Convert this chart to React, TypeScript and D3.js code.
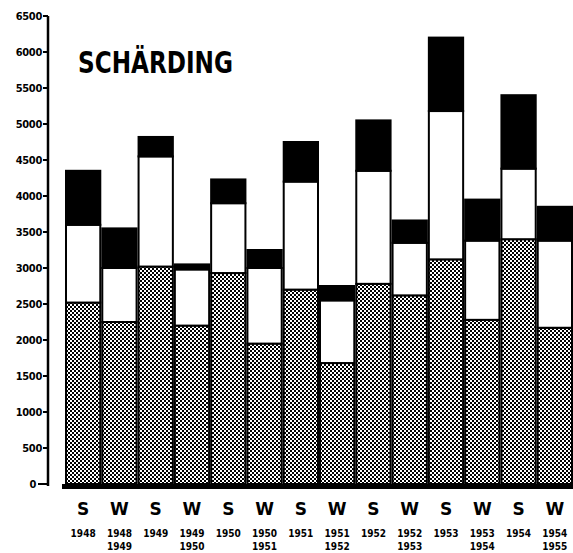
import { useEffect, useRef } from 'react';
import * as d3 from 'd3';

// seasons: S = summer, W = winter
const seasons = ['S', 'W', 'S', 'W', 'S', 'W', 'S', 'W', 'S', 'W', 'S', 'W', 'S', 'W'];
const yearLines = [
  ['1948'], ['1948', '1949'], ['1949'], ['1949', '1950'], ['1950'], ['1950', '1951'],
  ['1951'], ['1951', '1952'], ['1952'], ['1952', '1953'], ['1953'], ['1953', '1954'],
  ['1954'], ['1954', '1955'],
];

// stacked segments, bottom to top
const hatched = [2520, 2250, 3020, 2200, 2930, 1950, 2700, 1680, 2780, 2620, 3120, 2280, 3400, 2170];
const white = [1080, 750, 1530, 780, 970, 1050, 1500, 870, 1570, 730, 2060, 1100, 980, 1210];
const black = [750, 550, 270, 70, 330, 250, 550, 200, 700, 310, 1020, 570, 1020, 470];

const yTicks = [0, 500, 1000, 1500, 2000, 2500, 3000, 3500, 4000, 4500, 5000, 5500, 6000, 6500];

const W = 573;
const H = 553;

export default function App() {
  const svgRef = useRef<SVGSVGElement>(null);

  useEffect(() => {
    document.body.style.margin = '0';
    document.body.style.overflow = 'hidden';
    if (!svgRef.current) return;
    const svg = d3.select(svgRef.current);
    svg.selectAll('*').remove();

    const defs = svg.append('defs');
    const pat = defs.append('pattern')
      .attr('id', 'hatch')
      .attr('patternUnits', 'userSpaceOnUse')
      .attr('width', 4)
      .attr('height', 4);
    pat.append('rect').attr('width', 4).attr('height', 4).attr('fill', '#fff');
    pat.append('rect').attr('x', 0).attr('y', 0).attr('width', 2).attr('height', 2).attr('fill', '#000');
    pat.append('rect').attr('x', 2).attr('y', 2).attr('width', 2).attr('height', 2).attr('fill', '#000');

    const rows = seasons.map((s, i) => ({ key: String(i), hatched: hatched[i], white: white[i], black: black[i] }));

    const x = d3.scaleBand().domain(rows.map(d => d.key)).range([65, 573]).padding(0);
    const y = d3.scaleLinear().domain([0, 6500]).range([484, 16]);

    const stack = d3.stack<any>().keys(['hatched', 'white', 'black']);
    const series = stack(rows);
    const fills: Record<string, string> = { hatched: 'url(#hatch)', white: '#fff', black: '#000' };

    series.forEach(s => {
      svg.append('g')
        .selectAll('rect')
        .data(s)
        .enter()
        .append('rect')
        .attr('x', d => x(d.data.key)! + 1)
        .attr('y', d => y(d[1]))
        .attr('width', x.bandwidth() - 2)
        .attr('height', d => y(d[0]) - y(d[1]))
        .attr('fill', fills[s.key])
        .attr('stroke', '#000')
        .attr('stroke-width', 2);
    });

    // y axis
    svg.append('line')
      .attr('x1', 48).attr('x2', 48)
      .attr('y1', y(6500)).attr('y2', y(0) + 2)
      .attr('stroke', '#000').attr('stroke-width', 2.5);

    const yt = svg.append('g');
    yt.selectAll('line')
      .data(yTicks)
      .enter()
      .append('line')
      .attr('x1', d => (d === 0 ? 38 : 43))
      .attr('x2', 48)
      .attr('y1', d => y(d))
      .attr('y2', d => y(d))
      .attr('stroke', '#000')
      .attr('stroke-width', 2);
    yt.selectAll('text')
      .data(yTicks)
      .enter()
      .append('text')
      .attr('x', d => (d === 0 ? 36 : 42))
      .attr('y', d => y(d))
      .attr('dy', '0.35em')
      .attr('text-anchor', 'end')
      .attr('font-family', 'Liberation Sans Narrow, DejaVu Sans Condensed, sans-serif')
      .attr('font-weight', 'bold')
      .attr('font-size', 11)
      .attr('letter-spacing', -0.3)
      .text(d => String(d));

    // baseline
    svg.append('rect')
      .attr('x', 62).attr('y', y(0))
      .attr('width', 573 - 62).attr('height', 5)
      .attr('fill', '#000');

    // x labels
    const xl = svg.append('g');
    xl.selectAll('text.season')
      .data(seasons)
      .enter()
      .append('text')
      .attr('class', 'season')
      .attr('x', (d, i) => x(String(i))! + x.bandwidth() / 2)
      .attr('y', 515)
      .attr('text-anchor', 'middle')
      .attr('font-family', 'DejaVu Sans, sans-serif')
      .attr('font-weight', 'bold')
      .attr('font-size', 17)
      .text(d => d);

    yearLines.forEach((lines, i) => {
      lines.forEach((t, j) => {
        xl.append('text')
          .attr('x', x(String(i))! + x.bandwidth() / 2)
          .attr('y', 537 + j * 13)
          .attr('text-anchor', 'middle')
          .attr('font-family', 'Liberation Sans Narrow, DejaVu Sans Condensed, sans-serif')
          .attr('font-weight', 'bold')
          .attr('font-size', 10)
          .text(t);
      });
    });

    // title
    svg.append('text')
      .attr('x', 78)
      .attr('y', 73)
      .attr('font-family', 'DejaVu Sans Condensed, DejaVu Sans, sans-serif')
      .attr('font-weight', 'bold')
      .attr('font-size', 30)
      .attr('textLength', 155)
      .attr('lengthAdjust', 'spacingAndGlyphs')
      .text('SCHÄRDING');
  }, []);

  return (
    <div style={{ position: 'absolute', left: 0, top: 0, width: W, height: H, background: '#fff' }}>
      <svg ref={svgRef} width={W} height={H} viewBox={`0 0 ${W} ${H}`} style={{ display: 'block' }} />
    </div>
  );
}
